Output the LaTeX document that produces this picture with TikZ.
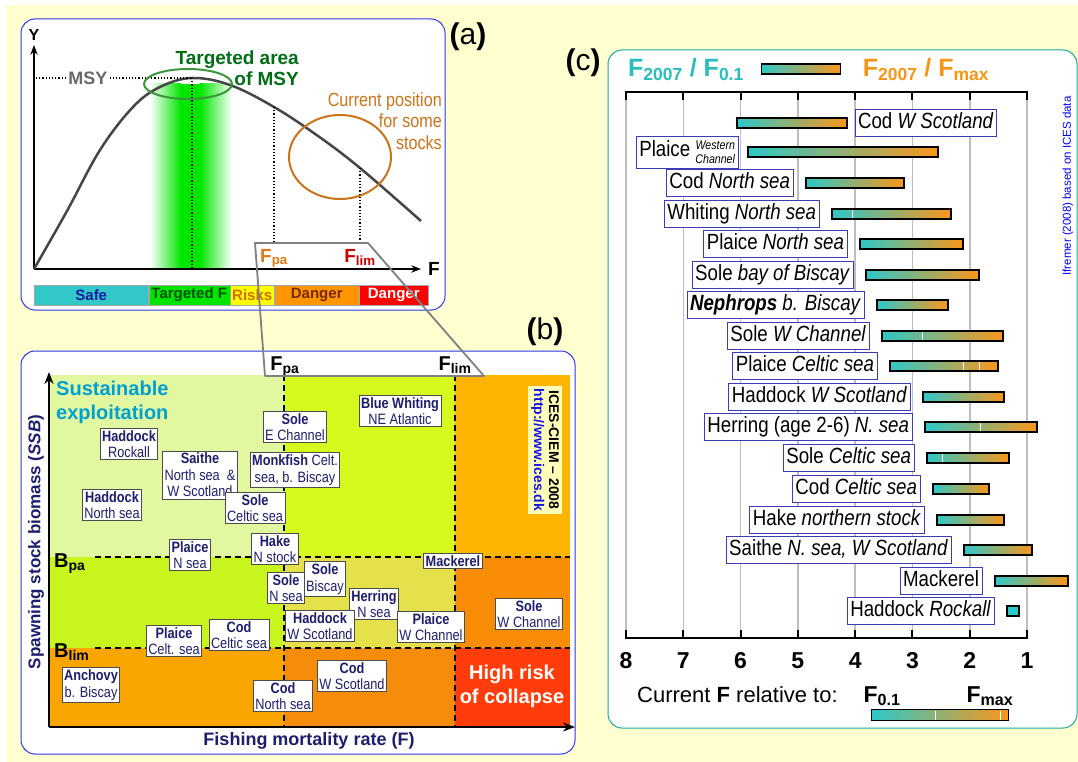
\documentclass[tikz,border=0pt]{standalone}
\usepackage{fontspec}
\setmainfont{Liberation Sans}
\newfontfamily\narrowfont[FakeStretch=0.85]{Liberation Sans}
\usepackage{tikz}
\usetikzlibrary{arrows.meta,positioning,calc}
\usepackage{xcolor}

\definecolor{bgyel}{RGB}{255,255,208}
\definecolor{panblue}{RGB}{45,55,235}
\definecolor{panteal}{RGB}{20,170,160}
\definecolor{curvegray}{RGB}{70,70,70}
\definecolor{msygray}{RGB}{105,105,105}
\definecolor{msygreen}{RGB}{0,110,20}
\definecolor{ellgreen}{RGB}{60,150,60}
\definecolor{bandgreen}{RGB}{0,230,0}
\definecolor{curorange}{RGB}{205,115,25}
\definecolor{fpaorange}{RGB}{225,120,20}
\definecolor{flimred}{RGB}{205,0,0}
\definecolor{safecyan}{RGB}{50,200,200}
\definecolor{safetext}{RGB}{20,30,160}
\definecolor{tgttext}{RGB}{0,80,0}
\definecolor{risktext}{RGB}{210,110,0}
\definecolor{dangtext}{RGB}{120,40,0}
\definecolor{riskyel}{RGB}{255,255,0}
\definecolor{dangorange}{RGB}{255,150,0}
\definecolor{dangred}{RGB}{255,0,0}
\definecolor{stknavy}{RGB}{30,30,110}
\definecolor{susblue}{RGB}{0,160,210}
\definecolor{zoneA}{RGB}{225,248,160}
\definecolor{zoneB}{RGB}{215,250,30}
\definecolor{zoneC}{RGB}{255,180,0}
\definecolor{zoneD}{RGB}{200,245,30}
\definecolor{zoneE}{RGB}{228,225,75}
\definecolor{zoneF}{RGB}{248,140,5}
\definecolor{zoneG}{RGB}{250,165,0}
\definecolor{zoneH}{RGB}{245,140,10}
\definecolor{zoneI}{RGB}{255,60,10}
\definecolor{icesyel}{RGB}{255,255,185}
\definecolor{icesblue}{RGB}{20,20,230}
\definecolor{fteal}{RGB}{45,200,200}
\definecolor{forange}{RGB}{250,150,25}
\definecolor{labblue}{RGB}{60,60,180}
\definecolor{gridgray}{RGB}{190,190,190}
\definecolor{ttlteal}{RGB}{40,190,190}
\definecolor{ttlorange}{RGB}{245,150,20}

\begin{document}
\begin{tikzpicture}[x=1pt,y=-1pt,>=Stealth,
   panel/.style={rounded corners=14pt,fill=white,line width=1pt},
   plab/.style={font=\fontsize{30}{30}\selectfont,inner sep=1pt},
   seg/.style={draw=black!35,line width=0.5pt,minimum height=20pt,inner sep=0pt,anchor=west,font=\bfseries\fontsize{15}{15}\selectfont},
   stock/.style={draw=black!70,fill=white,line width=0.9pt,align=center,inner sep=2pt,text=stknavy,font=\narrowfont\fontsize{15}{16.5}\selectfont},
   fbar/.style={draw=black,line width=1.2pt,left color=fteal,right color=forange,minimum height=10pt,inner sep=0pt},
   flab/.style={draw=labblue,fill=white,line width=0.8pt,inner sep=3pt,text height=16pt,text depth=5pt,font=\narrowfont\fontsize{22}{24}\selectfont},
   big/.style={font=\bfseries\fontsize{20}{20}\selectfont,inner sep=1pt,anchor=base},
   dline/.style={dash pattern=on 6pt off 4pt,line width=1.3pt}]

  \useasboundingbox (0,0) rectangle (1078,762);
  \fill[bgyel] (6,5) rectangle (1078,762);

  % ---- panel (a): yield against F ----
  \draw[panel,draw=panblue] (21,19) rectangle (445,310);
  \node[plab] (labA) at (468,37) {\textbf{(}a\textbf{)}};
  % green band round F at MSY
  \shade[left color=white,right color=bandgreen] (150,84) rectangle (181,268);
  \fill[bandgreen] (181,84) rectangle (200,268);
  \shade[left color=bandgreen,right color=white] (200,84) rectangle (232,268);
  % axes
  \coordinate (orig) at (34,269);
  \coordinate (ytip) at (34,45);
  \coordinate (xtip) at (421,269);
  \draw[->,line width=1.5pt] (orig) -- (ytip);
  \draw[->,line width=1.5pt] (orig) -- (xtip);
  \node[font=\bfseries\fontsize{16}{16}\selectfont,inner sep=1pt,above=3pt of ytip] (ylabA) {Y};
  \node[font=\bfseries\fontsize{19}{19}\selectfont,inner sep=1pt,right=6pt of xtip] (xlabA) {F};
  % yield curve
  \draw[curvegray,line width=2.5pt] plot[smooth,tension=0.6] coordinates {(34,269) (67,211) (100,150) (133,107) (160,87) (192,78) (230,85) (274,107) (318,136) (360,168) (421,221)};
  \coordinate (peak) at (192,78);
  \draw[dotted,line width=1.2pt] (36,78) -- (peak);
  \draw[dotted,line width=1.2pt] (peak) -- (192,268);
  \draw[dotted,line width=1.2pt] (274,107) -- (274,242);
  \draw[dotted,line width=1.2pt] (360,168) -- (360,242);
  \node[fill=white,inner sep=1pt,text=msygray,font=\bfseries\fontsize{18}{18}\selectfont] (msy) at (88,78) {MSY};
  \draw[ellgreen,line width=2pt] (188,84) ellipse [x radius=44pt,y radius=15pt];
  \draw[curorange,line width=2pt] (340,157) ellipse [x radius=51pt,y radius=42pt];
  \node[anchor=east,align=right,text=msygreen,font=\bfseries\fontsize{19}{21}\selectfont,inner sep=0pt] (tgtA) at (299,68) {Targeted area\\of MSY};
  \node[anchor=east,align=right,text=curorange,font=\narrowfont\fontsize{19}{21.5}\selectfont,inner sep=0pt] (curA) at (442,121) {Current position\\for some\\stocks};
  \node[big,text=fpaorange,font=\bfseries\fontsize{19}{19}\selectfont] (fpaA) at (274,262) {F\textsubscript{pa}};
  \node[big,text=flimred,font=\bfseries\fontsize{19}{19}\selectfont] (flimA) at (360,262) {F\textsubscript{lim}};
  % colour scale under the axis
  \node[seg,fill=safecyan,text=safetext,minimum width=114pt] (sgSafe) at (34,295) {Safe};
  \node[seg,fill=bandgreen,text=tgttext,minimum width=81pt,right=0pt of sgSafe] (sgTgt) {Targeted F};
  \node[seg,fill=riskyel,text=risktext,minimum width=44pt,right=0pt of sgTgt] (sgRisk) {Risks};
  \node[seg,fill=dangorange,text=dangtext,minimum width=84pt,right=0pt of sgRisk] (sgDang) {Danger};
  \node[seg,fill=dangred,text=white,minimum width=69pt,right=0pt of sgDang] (sgDang2) {Danger};

  % ---- panel (b): stock status ----
  \draw[panel,draw=panblue] (21,351) rectangle (575,754);
  \node[plab] (labB) at (545,332) {\textbf{(}b\textbf{)}};
  % zones
  \foreach \xa/\xb/\ya/\yb/\c in {49/284/375/557/zoneA,284/455/375/557/zoneB,455/570/375/557/zoneC,
      49/284/557/648/zoneD,284/455/557/648/zoneE,455/570/557/648/zoneF,
      49/284/648/727/zoneG,284/455/648/727/zoneH,455/570/648/727/zoneI}
    \fill[\c] (\xa,\ya) rectangle (\xb,\yb);
  \draw[dline] (284,375) -- (284,727);
  \draw[dline] (455,375) -- (455,727);
  \draw[dline] (95,557) -- (570,557);
  \draw[dline] (95,648) -- (570,648);
  \coordinate (origB) at (49,727);
  \coordinate (ytipB) at (49,372);
  \coordinate (xtipB) at (575,727);
  \draw[->,line width=2pt] (origB) -- (ytipB);
  \draw[->,line width=2pt] (origB) -- (xtipB);
  \node[big] (fpaB) at (285,370) {F\textsubscript{pa}};
  \node[big] (flimB) at (455,370) {F\textsubscript{lim}};
  \node[big,anchor=base west] (bpaB) at (53,567) {B\textsubscript{pa}};
  \node[big,anchor=base west] (blimB) at (53,657) {B\textsubscript{lim}};
  \node[anchor=west,align=left,text=susblue,font=\bfseries\fontsize{20}{24}\selectfont,inner sep=0pt] (sust) at (56,402) {Sustainable\\exploitation};
  \node[rotate=90,text=stknavy,font=\bfseries\fontsize{17}{17}\selectfont] (ylabB) at (36,542) {Spawning stock biomass (\textit{SSB})};
  \node[text=stknavy,font=\bfseries\fontsize{18}{18}\selectfont] (xlabB) at (309,741) {Fishing mortality rate (F)};
  \node[align=center,text=white,font=\bfseries\fontsize{20}{24}\selectfont] (risk) at (512,686) {High risk\\of collapse};
  \node[rotate=-90,fill=icesyel,align=center,inner sep=3pt,font=\bfseries\fontsize{14}{15}\selectfont] (ices) at (545,450) {ICES-CIEM -- 2008\\\textcolor{icesblue}{http://www.ices.dk}};
  % stocks
  \foreach \x/\y/\t [count=\i] in {
      129/444/{\textbf{Haddock}\\Rockall},
      200/475/{\textbf{Saithe}\\North sea~~\&\\W Scotland},
      112/505/{\textbf{Haddock}\\North sea},
      295/427/{\textbf{Sole}\\E Channel},
      400/411/{\textbf{Blue Whiting}\\NE Atlantic},
      295/470/{\textbf{Monkfish} Celt.\\sea, b. Biscay},
      255/508/{\textbf{Sole}\\Celtic sea},
      190/555/{\textbf{Plaice}\\N sea},
      275/549/{\textbf{Hake}\\N stock},
      453/561/{\textbf{Mackerel}},
      286/588/{\textbf{Sole}\\N sea},
      325/579/{\textbf{Sole}\\Biscay},
      374/604/{\textbf{Herring}\\N sea},
      431/627/{\textbf{Plaice}\\W Channel},
      320/626/{\textbf{Haddock}\\W Scotland},
      529/614/{\textbf{Sole}\\W Channel},
      174/641/{\textbf{Plaice}\\Celt. sea},
      239/635/{\textbf{Cod}\\Celtic sea},
      91/685/{\textbf{Anchovy}\\b. Biscay},
      283/696/{\textbf{Cod}\\North sea},
      352/676/{\textbf{Cod}\\W Scotland}}
    \node[stock] (stk\i) at (\x,\y) {\t};

  % ---- zoom frame from (a) to (b) ----
  \draw[gray,line width=1.8pt,line join=round] (255,243) -- (368,243) -- (484,376) -- (265,376) -- cycle;

  % ---- panel (c): F in 2007 against the reference points ----
  \draw[panel,draw=panteal] (608,50) rectangle (1077,728);
  \node[plab] (labC) at (583,63) {\textbf{(}c\textbf{)}};
  \node[anchor=base,text=ttlteal,font=\bfseries\fontsize{25}{25}\selectfont,inner sep=0pt] (ttlA) at (686,77) {F\textsubscript{2007} / F\textsubscript{0.1}};
  \node[fbar,minimum width=79pt] (ttlbar) at (801,69) {};
  \node[anchor=base,text=ttlorange,font=\bfseries\fontsize{25}{25}\selectfont,inner sep=0pt] (ttlB) at (926,77) {F\textsubscript{2007} / F\textsubscript{max}};
  % grid and scales
  \foreach \v in {1,...,8}{
    \pgfmathsetmacro{\gx}{626+(8-\v)*57.29}
    \draw[gridgray,line width=1.5pt] (\gx,92) -- (\gx,638);
    \draw[line width=2pt] (\gx,91) -- (\gx,100);
    \draw[line width=2pt] (\gx,639) -- (\gx,630);
    \node[anchor=base,font=\bfseries\fontsize{23}{23}\selectfont] (num\v) at (\gx,668) {\v};
  }
  \draw[line width=2pt] (626,92) -- (1027,92);
  \draw[line width=2pt] (626,638) -- (1027,638);
  % one bar per stock
  \node[fbar,minimum width=110pt] (bar1) at (792,123) {};
  \node[flab,right=7pt of bar1] (lab1) {Cod \textit{W Scotland}};
  \node[fbar,minimum width=190pt] (bar2) at (843,152) {};
  \node[flab,text height=18pt,text depth=8pt,left=9pt of bar2] (lab2) {Plaice \raisebox{-7pt}{\fontsize{12.5}{14.5}\selectfont\itshape\begin{tabular}[b]{@{}r@{}}Western\\Channel\end{tabular}}};
  \foreach \y/\xa/\xb/\t [count=\i from 3] in {
      183/806/904/{Cod \textit{North sea}},
      214/832/951/{Whiting \textit{North sea}},
      244/860/963/{Plaice \textit{North sea}},
      275/866/979/{Sole \textit{bay of Biscay}},
      305/877/948/{\textbf{\textit{Nephrops}} \textit{b. Biscay}},
      336/882/1003/{Sole \textit{W Channel}},
      366/890/998/{Plaice \textit{Celtic sea}},
      397/923/1004/{Haddock \textit{W Scotland}},
      427/925/1037/{Herring (age 2-6) \textit{N. sea}},
      458/927/1009/{Sole \textit{Celtic sea}},
      489/933/989/{Cod \textit{Celtic sea}},
      520/937/1004/{Hake \textit{northern stock}},
      550/964/1032/{Saithe \textit{N. sea, W Scotland}},
      581/995/1068/{Mackerel}}{
    \node[fbar,minimum width=\xb-\xa] (bar\i) at ({(\xa+\xb)/2},\y) {};
    \node[flab,left=12pt of bar\i] (lab\i) {\t};
  }
  \node[fbar,left color=fteal,right color=fteal,minimum width=12pt] (bar17) at (1013,611) {};
  \node[flab,left=12pt of bar17] (lab17) {Haddock \textit{Rockall}};
  \foreach \y/\tx in {214/852,336/922,366/963,366/979,427/980,458/942}
    \draw[white,line width=1pt] (\tx,\y-4) -- (\tx,\y+4);
  % key under the scale
  \node[anchor=base west,inner sep=0pt,font=\fontsize{22}{22}\selectfont] (curF) at (637,702) {Current \textbf{F} relative to:};
  \node[anchor=base,inner sep=0pt,font=\bfseries\fontsize{23}{23}\selectfont] (f01) at (882,702) {F\textsubscript{0.1}};
  \node[anchor=base,inner sep=0pt,font=\bfseries\fontsize{23}{23}\selectfont] (fmax) at (990,702) {F\textsubscript{max}};
  \node[fbar,minimum width=137pt,minimum height=11pt] (legbar) at (940,715) {};
  \draw[white,line width=1pt] (935,711) -- (935,720);
  \draw[white,line width=1pt] (1000,711) -- (1000,720);
  \node[rotate=90,text=blue,font=\fontsize{11.5}{12}\selectfont] (ifr) at (1068,186) {Ifremer (2008) based on ICES data};
\end{tikzpicture}
\end{document}
